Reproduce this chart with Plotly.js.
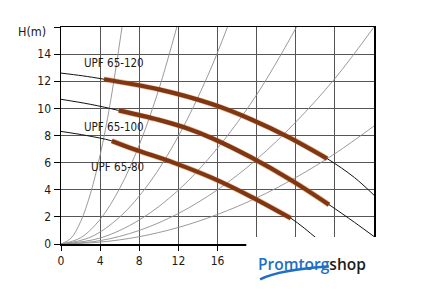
<!DOCTYPE html>
<html>
<head>
<meta charset="utf-8">
<script src="https://cdn.plot.ly/plotly-3.0.1.min.js"></script>
<style>
  html, body { margin: 0; padding: 0; background: #fff; }
  #chart { width: 424px; height: 296px; }
</style>
</head>
<body>
<div id="chart"></div>
<script>
// ---- Data ----
// Pump curves (flow Q, head H)
const pumpNames = ['UPF 65-120', 'UPF 65-100', 'UPF 65-80'];

const q120 = [0, 2.2, 4.4, 10, 15.5, 19.4, 23.2, 27.2, 30, 32];
const h120 = [12.6, 12.4, 12.15, 11.4, 10.3, 9.2, 7.9, 6.3, 4.9, 3.6];
const q120op = [4.4, 10, 15.5, 19.4, 23.2, 27.2];
const h120op = [12.15, 11.4, 10.3, 9.2, 7.9, 6.3];

const q100 = [0, 3, 5.9, 10, 13, 15.45, 19.4, 23.5, 27.4, 30, 32];
const h100 = [10.67, 10.3, 9.85, 9.15, 8.5, 7.8, 6.4, 4.72, 2.9, 1.6, 0.55];
const q100op = [5.9, 10, 13, 15.45, 19.4, 23.5, 27.4];
const h100op = [9.85, 9.15, 8.5, 7.8, 6.4, 4.72, 2.9];

const q80 = [0, 2.6, 5.2, 7.4, 11.5, 15.45, 19.4, 23.5, 26, 27];
const h80 = [8.3, 8.0, 7.6, 7.0, 6.0, 4.87, 3.5, 1.9, 0.5, -0.1];
const q80op = [5.2, 7.4, 11.5, 15.45, 19.4, 23.5];
const h80op = [7.6, 7.0, 6.0, 4.87, 3.5, 1.9];

// System (pipe) curves
const sysA_q = [0, 1, 2, 3, 4, 5, 6.28];
const sysA_h = [0, 0.41, 1.64, 3.69, 6.56, 10.25, 16.2];
const sysB_q = [0, 2, 4, 6, 8, 10, 11.9];
const sysB_h = [0, 0.46, 1.82, 4.1, 7.3, 11.4, 16.15];
const sysC_q = [0, 3, 6, 9, 12, 15, 17.1];
const sysC_h = [0, 0.5, 1.99, 4.47, 7.95, 12.4, 16.15];
const sysD_q = [0, 4, 8, 12, 16, 20, 24.2];
const sysD_h = [0, 0.44, 1.77, 3.97, 7.07, 11.0, 16.15];
const sysE_q = [0, 4, 8, 12, 16, 20, 24, 28, 32];
const sysE_h = [0, 0.25, 1.0, 2.25, 4.0, 6.24, 8.99, 12.2, 16.0];
const sysF_q = [0, 4, 8, 12, 16, 20, 24, 28, 32];
const sysF_h = [0, 0.14, 0.54, 1.22, 2.18, 3.4, 4.9, 6.66, 8.7];

// Axis ticks
const xTickVals = [0, 4, 8, 12, 16, 20, 24, 28];
const xTickText = ['0', '4', '8', '12', '16', '', '', ''];
const yTickVals = [0, 2, 4, 6, 8, 10, 12, 14, 16];
const yTickText = ['0', '2', '4', '6', '8', '10', '12', '14', ''];
const yAxisLabel = 'H(m)';

// Label positions for the pump names
const labelQ = [5.44, 5.44, 5.74];
const labelH = [13.35, 8.6, 5.65];

// ---- Build traces ----
const FONT = 'DejaVu Sans Condensed, DejaVu Sans, sans-serif';
const traces = [];

const sysCurves = [
  [sysA_q, sysA_h], [sysB_q, sysB_h], [sysC_q, sysC_h],
  [sysD_q, sysD_h], [sysE_q, sysE_h], [sysF_q, sysF_h]
];
sysCurves.forEach(function (c) {
  traces.push({
    x: c[0], y: c[1], type: 'scatter', mode: 'lines',
    line: { color: '#8e8e8e', width: 0.9, shape: 'spline', smoothing: 1 },
    hoverinfo: 'skip', showlegend: false
  });
});

const pumps = [[q120, h120], [q100, h100], [q80, h80]];
pumps.forEach(function (p) {
  traces.push({
    x: p[0], y: p[1], type: 'scatter', mode: 'lines',
    line: { color: '#111', width: 1, shape: 'spline', smoothing: 1 },
    hoverinfo: 'skip', showlegend: false
  });
});

const ops = [[q120op, h120op], [q100op, h100op], [q80op, h80op]];
ops.forEach(function (p) {
  traces.push({
    x: p[0], y: p[1], type: 'scatter', mode: 'lines',
    line: { color: 'rgba(200,110,50,0.45)', width: 5.6, shape: 'spline', smoothing: 1 },
    hoverinfo: 'skip', showlegend: false
  });
  traces.push({
    x: p[0], y: p[1], type: 'scatter', mode: 'lines',
    line: { color: '#7f3611', width: 4.2, shape: 'spline', smoothing: 1 },
    hoverinfo: 'skip', showlegend: false
  });
});

const annotations = pumpNames.map(function (name, i) {
  return {
    x: labelQ[i], y: labelH[i], xref: 'x', yref: 'y',
    text: name, showarrow: false,
    font: { family: FONT, size: 11.5, color: '#1a1a1a' },
    xanchor: 'center', yanchor: 'middle'
  };
});

// y-axis unit label at the top of the axis
annotations.push({
  x: -0.04, y: 0.978, xref: 'paper', yref: 'paper',
  text: yAxisLabel, showarrow: false,
  font: { family: FONT, size: 12.5, color: '#1a1a1a' },
  xanchor: 'right', yanchor: 'middle'
});

// Watermark logo
annotations.push({
  x: 0.8035, y: -0.09, xref: 'paper', yref: 'paper',
  text: '<span style="color:#1f6fc5">Promtorg</span><span style="color:#1c1c1c">shop</span>',
  showarrow: false,
  font: { family: 'Open Sans, sans-serif', size: 15.5, weight: 600 },
  xanchor: 'center', yanchor: 'middle'
});

const axisCommon = {
  showgrid: true, gridcolor: '#555', gridwidth: 1,
  showline: true, linecolor: '#000', linewidth: 1.5, mirror: true,
  ticks: 'outside', ticklen: 6, tickcolor: '#000', tickwidth: 1,
  zeroline: false, fixedrange: true,
  tickfont: { family: FONT, size: 12, color: '#1a1a1a' }
};

const layout = {
  width: 424, height: 296,
  margin: { l: 61, r: 50, t: 27, b: 52, pad: 0 },
  paper_bgcolor: '#fff', plot_bgcolor: '#fff',
  showlegend: false,
  xaxis: Object.assign({}, axisCommon, {
    range: [0, 32], tickmode: 'array', tickvals: xTickVals, ticktext: xTickText,
    ticklen: 5
  }),
  yaxis: Object.assign({}, axisCommon, {
    range: [0, 16], tickmode: 'array', tickvals: yTickVals, ticktext: yTickText
  }),
  annotations: annotations,
  shapes: [
    // white watermark box covering bottom-right corner of the plot
    {
      type: 'rect', xref: 'paper', yref: 'paper',
      x0: 0.592, x1: 1.3, y0: -0.5, y1: 0.032,
      fillcolor: '#fff', line: { width: 0 }, layer: 'above'
    },
    // logo swoosh
    {
      type: 'path', xref: 'paper', yref: 'paper',
      path: 'M0.636,-0.163 Q0.70,-0.118 0.856,-0.104',
      line: { color: '#1f6fc5', width: 2.4 },
      fillcolor: 'rgba(0,0,0,0)', layer: 'above'
    }
  ]
};

Plotly.newPlot('chart', traces, layout, { staticPlot: true, displayModeBar: false });
</script>
</body>
</html>
